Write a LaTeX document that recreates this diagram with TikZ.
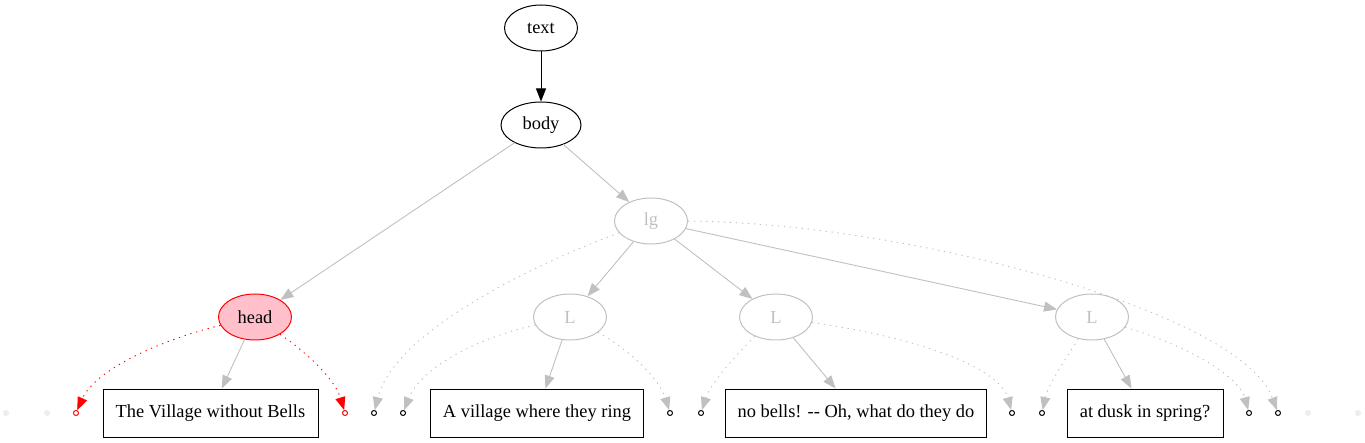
\documentclass[tikz,border=0pt]{standalone}
\usepackage{fontspec}
\setmainfont{Liberation Serif}
\usepackage{tikz}
\usetikzlibrary{shapes.geometric, arrows.meta}
\definecolor{edgegray}{HTML}{C0C0C0}
\definecolor{faintgray}{HTML}{EDEDED}
\definecolor{headpink}{HTML}{FFC0CB}
\tikzset{
every node/.style={font=\fontsize{18.4}{20}\selectfont}, % graphviz sized text
tag/.style={ellipse, draw, line width=1pt, minimum width=73pt, minimum height=46pt, inner sep=0pt}, % element nodes
faded/.style={tag, draw=edgegray, text=edgegray}, % elements not in focus
focus/.style={tag, draw=red, fill=headpink}, % the highlighted element
leaf/.style={rectangle, draw, line width=1pt, minimum height=48pt, inner xsep=12pt}, % text leaves
port/.style={circle, draw, fill=white, line width=1pt, inner sep=0pt, minimum size=5pt}, % empty text slots
ghost/.style={circle, fill=faintgray, inner sep=0pt, minimum size=6pt}, % invisible padding nodes
link/.style={-{Triangle[length=13pt,width=10pt]}, edgegray, line width=0.9pt}, % child edges
hop/.style={link, dash pattern=on 1.3pt off 4.7pt}, % edges to empty slots
}

\begin{document}
\begin{tikzpicture}[x=1pt, y=-1pt]
            \useasboundingbox (0,0) rectangle (1365,443);
            \node[tag] (text) at (541,28) {text};
            \node[tag, minimum width=80pt] (body) at (541,125) {body};
            \node[faded] (lg) at (651,221) {lg};
            \node[focus] (head) at (255,317) {head};
            \node[faded] (l1) at (570,317) {L};
            \node[faded] (l2) at (776,317) {L};
            \node[faded] (l3) at (1092,317) {L};
            \node[leaf, minimum width=215pt] (v1) at (210.5,413) {The Village without Bells};
            \node[leaf, minimum width=212pt] (v2) at (537,413) {A village where they ring};
            \node[leaf, minimum width=260pt] (v3) at (856,413) {no bells! -{}- Oh, what do they do};
            \node[leaf, minimum width=156pt] (v4) at (1145,413) {at dusk in spring?};
            \node[ghost] (g1) at (6,413) {};
            \node[ghost] (g2) at (47,413) {};
            \node[ghost] (g3) at (1308,413) {};
            \node[ghost] (g4) at (1358,413) {};
            \node[port, draw=red] (ha) at (76,413) {};
            \node[port, draw=red] (hb) at (345,413) {};
            \node[port] (la) at (374,413) {};
            \node[port] (pa) at (403,413) {};
            \node[port] (pb) at (670,413) {};
            \node[port] (qa) at (701,413) {};
            \node[port] (qb) at (1012,413) {};
            \node[port] (ra) at (1042,413) {};
            \node[port] (rb) at (1249,413) {};
            \node[port] (lb) at (1278,413) {};
            \draw[link, black] (text) -- (body);
            \draw[link] (body) -- (head);
            \draw[link] (body) -- (lg);
            \draw[link] (lg) -- (l1);
            \draw[link] (lg) -- (l2);
            \draw[link] (lg) -- (l3);
            \draw[link] (head) -- (v1);
            \draw[link] (l1) -- (v2);
            \draw[link] (l2) -- (v3);
            \draw[link] (l3) -- (v4);
            % dotted edges to the empty slots
            \draw[hop, red] (head) .. controls (160,340) and (95,370) .. (ha);
            \draw[hop, red] (head) .. controls (310,355) and (335,380) .. (hb);
            \draw[hop] (lg) .. controls (540,262) and (395,330) .. (la);
            \draw[hop] (lg) .. controls (900,222) and (1240,310) .. (lb);
            \draw[hop] (l1) .. controls (470,340) and (420,370) .. (pa);
            \draw[hop] (l1) .. controls (630,350) and (660,380) .. (pb);
            \draw[hop] (l2) .. controls (735,355) and (710,385) .. (qa);
            \draw[hop] (l2) .. controls (930,340) and (1000,370) .. (qb);
            \draw[hop] (l3) .. controls (1065,360) and (1048,385) .. (ra);
            \draw[hop] (l3) .. controls (1200,350) and (1240,380) .. (rb);
\end{tikzpicture}
\end{document}
